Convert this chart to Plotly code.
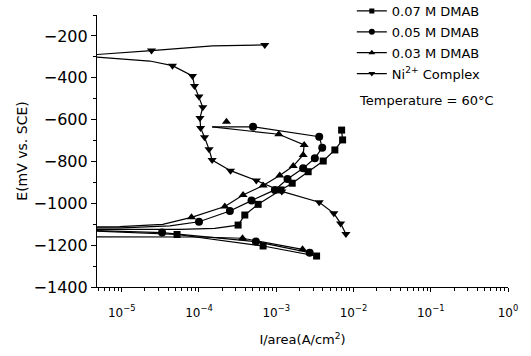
import plotly.graph_objects as go
import numpy as np

# ---------------- data (current density A/cm2, potential mV vs SCE) ----------------
# 0.07 M DMAB : full line path and marker points
d07_path_i = [7.02e-3, 7.23e-3, 5.74e-3, 4.06e-3, 2.59e-3, 1.61e-3, 1.15e-3, 5.83e-4, 3.92e-4,
              3.21e-4, 1.60e-4, 5.6e-5, 4.0e-6, 4.0e-6, 5.20e-5, 6.76e-4, 3.33e-3]
d07_path_e = [-650, -697, -745, -798, -849, -904, -936, -1005, -1056,
              -1104, -1120, -1125, -1125, -1132, -1149, -1204, -1252]
d07_mark_i = [7.02e-3, 7.23e-3, 5.74e-3, 4.06e-3, 2.59e-3, 1.61e-3, 1.15e-3, 5.83e-4, 3.92e-4,
              3.21e-4, 5.20e-5, 6.76e-4, 3.33e-3]
d07_mark_e = [-650, -697, -745, -798, -849, -904, -936, -1005, -1056,
              -1104, -1149, -1204, -1252]

# 0.05 M DMAB
d05_path_i = [1.48e-4, 5.01e-4, 3.60e-3, 3.94e-3, 3.16e-3, 2.23e-3, 1.40e-3, 9.6e-4, 4.79e-4,
              2.51e-4, 1.0e-4, 4.19e-5, 1.0e-5, 4.0e-6, 4.0e-6, 3.33e-5, 5.45e-4, 2.71e-3]
d05_path_e = [-635, -634, -682, -734, -785, -833, -884, -936, -987,
              -1037, -1088, -1108, -1117, -1118, -1130, -1140, -1183, -1236]
d05_mark_i = [5.01e-4, 3.60e-3, 3.94e-3, 3.16e-3, 2.23e-3, 1.40e-3, 9.6e-4, 4.79e-4,
              2.51e-4, 1.0e-4, 3.33e-5, 5.45e-4, 2.71e-3]
d05_mark_e = [-634, -682, -734, -785, -833, -884, -936, -987,
              -1037, -1088, -1140, -1183, -1236]

# 0.03 M DMAB
d03_path_i = [1.48e-4, 1.08e-3, 2.30e-3, 2.23e-3, 1.66e-3, 1.11e-3, 6.76e-4, 3.72e-4, 2.16e-4,
              8.0e-5, 3.40e-5, 9.4e-6, 4.0e-6, 4.0e-6, 1.0e-4, 3.66e-4, 2.19e-3]
d03_path_e = [-635, -670, -721, -769, -822, -867, -915, -960, -1015,
              -1067, -1101, -1111, -1113, -1160, -1161, -1167, -1220]
d03_mark_i = [2.27e-4, 1.08e-3, 2.30e-3, 2.23e-3, 1.66e-3, 1.11e-3, 6.76e-4, 3.72e-4, 2.16e-4,
              8.0e-5, 3.66e-4, 2.19e-3]
d03_mark_e = [-610, -670, -721, -769, -822, -867, -915, -960, -1015,
              -1067, -1167, -1220]

# Ni2+ complex
ni_path_i = [7.11e-4, 1.5e-4, 2.43e-5, 4.0e-6, 4.0e-6, 2.31e-5, 4.54e-5, 8.24e-5, 8.75e-5,
             1.0e-4, 1.12e-4, 1.03e-4, 1.05e-4, 1.18e-4, 1.35e-4, 1.48e-4, 2.56e-4, 5.52e-4,
             1.18e-3, 3.60e-3, 5.57e-3, 6.81e-3, 7.98e-3]
ni_path_e = [-243, -248, -270, -291, -299, -320, -342, -391, -439,
             -490, -541, -592, -640, -684, -742, -793, -844, -891,
             -943, -995, -1048, -1096, -1147]
ni_mark_i = [7.11e-4, 2.43e-5, 4.54e-5, 8.24e-5, 8.75e-5,
             1.0e-4, 1.12e-4, 1.03e-4, 1.05e-4, 1.18e-4, 1.35e-4, 1.48e-4, 2.56e-4, 5.52e-4,
             1.18e-3, 3.60e-3, 5.57e-3, 6.81e-3, 7.98e-3]
ni_mark_e = [-243, -270, -342, -391, -439,
             -490, -541, -592, -640, -684, -742, -793, -844, -891,
             -943, -995, -1048, -1096, -1147]

series_names = ["0.07 M DMAB", "0.05 M DMAB", "0.03 M DMAB", "Ni<sup>2+</sup> Complex"]
x_tick_exps = [-5, -4, -3, -2, -1, 0]
x_tick_text = ["10<sup>−5</sup>", "10<sup>−4</sup>", "10<sup>−3</sup>", "10<sup>−2</sup>",
               "10<sup>−1</sup>", "10<sup>0</sup>"]
y_ticks = [-1400, -1200, -1000, -800, -600, -400, -200]

FONT = "DejaVu Sans"
series = [
    (series_names[0], d07_path_i, d07_path_e, d07_mark_i, d07_mark_e, "square", 7),
    (series_names[1], d05_path_i, d05_path_e, d05_mark_i, d05_mark_e, "circle", 8),
    (series_names[2], d03_path_i, d03_path_e, d03_mark_i, d03_mark_e, "triangle-up", 8),
    (series_names[3], ni_path_i, ni_path_e, ni_mark_i, ni_mark_e, "triangle-down", 8),
]

fig = go.Figure()
for k, (name, pi, pe, mi, me, sym, sz) in enumerate(series):
    fig.add_trace(go.Scatter(x=pi, y=pe, mode="lines", line=dict(color="black", width=1.2),
                             showlegend=False, hoverinfo="skip"))
    fig.add_trace(go.Scatter(x=mi, y=me, mode="markers",
                             marker=dict(symbol=sym, size=sz, color="black"),
                             showlegend=False))
for k, (name, pi, pe, mi, me, sym, sz) in enumerate(series):
    fig.add_trace(go.Scatter(x=[None], y=[None], mode="lines+markers", name=name,
                             legendgroup=f"g{k}",
                             line=dict(color="black", width=1.2),
                             marker=dict(symbol=sym, size=sz - 2, color="black")))

minor_vals = [m * 10.0 ** e for e in range(-6, 0) for m in range(2, 10)]

fig.update_layout(
    width=531, height=356,
    margin=dict(l=97, r=23, t=15, b=69, autoexpand=False),
    paper_bgcolor="white", plot_bgcolor="white",
    font=dict(family=FONT, color="black"),
    legend=dict(x=0.62, y=1.07, xanchor="left", yanchor="top",
                font=dict(family=FONT, size=13, color="black"),
                bgcolor="rgba(0,0,0,0)", tracegroupgap=1, traceorder="grouped",
                itemwidth=30),
    annotations=[dict(text="Temperature = 60°C", x=0.633, y=0.6875, xref="paper", yref="paper",
                      xanchor="left", yanchor="middle", showarrow=False,
                      font=dict(family=FONT, size=13, color="black"))],
)
fig.update_xaxes(
    type="log", range=[-5.32, 0],
    tickmode="array", tickvals=[10.0 ** e for e in x_tick_exps], ticktext=x_tick_text,
    ticks="outside", ticklen=4, tickwidth=1, tickcolor="black",
    ticklabelstandoff=10,
    minor=dict(tickmode="array", tickvals=minor_vals, ticks="outside", ticklen=3,
               tickcolor="black", showgrid=False),
    showline=True, linecolor="black", linewidth=1.2, showgrid=False, zeroline=False,
    tickfont=dict(family=FONT, size=12, color="black"),
    title=dict(text="I/area(A/cm<sup>2</sup>)", font=dict(family=FONT, size=13, color="black"),
               standoff=16),
)
fig.update_yaxes(
    range=[-1400, -100],
    tickmode="array", tickvals=y_ticks,
    ticks="outside", ticklen=5, tickwidth=1, tickcolor="black",
    minor=dict(dtick=100, tick0=-1400, ticks="outside", ticklen=3, tickcolor="black",
               showgrid=False),
    showline=True, linecolor="black", linewidth=1.2, showgrid=False, zeroline=False,
    tickfont=dict(family=FONT, size=16, color="black"),
    title=dict(text="E(mV vs. SCE)", font=dict(family=FONT, size=14, color="black"),
               standoff=2),
)

fig.write_html("out.html")
